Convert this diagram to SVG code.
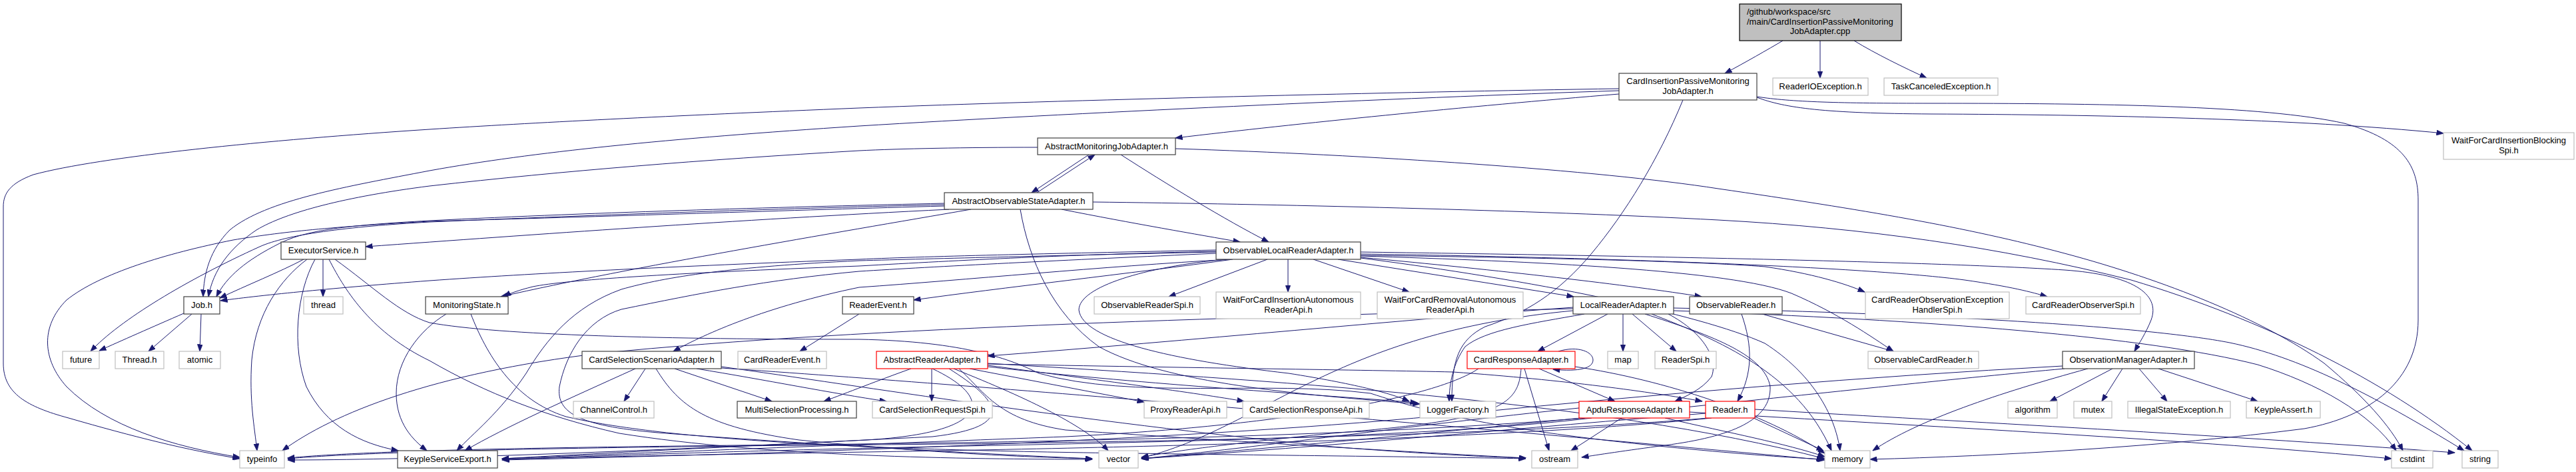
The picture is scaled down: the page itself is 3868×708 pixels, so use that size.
<svg xmlns="http://www.w3.org/2000/svg" width="3868" height="708" viewBox="0 0 3868 708">
<style>
text{font-family:"Liberation Sans",Arial,sans-serif;font-size:13px;fill:#000;text-anchor:middle}
.b{fill:#fff;stroke:#404040;stroke-width:1.2}
.g{fill:#fff;stroke:#bfbfbf;stroke-width:1.2}
.r{fill:#fff;stroke:#ff0000;stroke-width:1.2}
.root{fill:#bfbfbf;stroke:#000;stroke-width:1.2}
#edges path{fill:none;stroke:#191970;stroke-width:1;marker-end:url(#ar)}
</style>
<defs>
<marker id="ar" markerWidth="11" markerHeight="8" refX="10.5" refY="4" orient="auto" markerUnits="userSpaceOnUse"><path d="M0,0 L11,4 L0,8 z" fill="#191970" stroke="#191970" stroke-width="0.6"/></marker>
</defs>
<rect width="3868" height="708" fill="#fff"/>
<g id="edges">
<path d="M2677,61 C2655,74 2620,94 2590,110"/>
<path d="M2733,61 L2733,117"/>
<path d="M2784,61 C2815,80 2860,102 2893,117"/>
<path d="M2638,146 C2680,162 2740,170 2900,171 C3150,172 3450,178 3669,200"/>
<path d="M2638,145 C2690,153 2760,155 2900,155 C3150,155 3400,158 3520,185 C3610,210 3631,250 3631,300 L3631,480 C3631,570 3560,625 3460,643 C3250,670 3000,684 2808,689"/>
<path d="M2431,141 C2200,160 1950,185 1765,207"/>
<path d="M2431,136 C2100,147 1600,170 1290,189 C1000,208 800,228 645,256 C520,280 400,300 345,345 C315,375 306,410 305,445"/>
<path d="M2431,133 C2100,138 1600,150 1290,162 C1000,174 800,184 645,194 C400,210 150,235 50,262 C15,275 5,290 5,310 L5,545 C5,590 40,610 103,627 C200,655 280,675 360,688"/>
<path d="M2527,150 C2490,240 2440,320 2390,380 C2340,440 2290,470 2230,490 C2190,510 2180,540 2180,602"/>
<path d="M1635,232 L1549,289"/>
<path d="M1557,289 L1644,232"/>
<path d="M1558,221 C1450,221 1350,223 1290,226 C1050,240 850,256 645,279 C520,295 430,318 385,345 C345,372 320,405 313,445"/>
<path d="M1683,232 C1750,275 1840,330 1905,363"/>
<path d="M1765,223 C2050,232 2400,255 2580,283 C2800,315 2950,340 3100,380 C3250,420 3400,480 3490,545 C3550,595 3590,640 3608,676"/>
<path d="M1641,303 C1900,306 2300,315 2580,330 C2800,342 3000,370 3200,420 C3400,480 3580,570 3712,676"/>
<path d="M1594,314 C1700,335 1800,352 1862,363"/>
<path d="M1532,314 C1545,390 1580,470 1650,520 C1750,575 1950,592 2132,606"/>
<path d="M1425,314 C1100,330 800,352 549,370"/>
<path d="M1458,314 C1250,350 950,400 752,445"/>
<path d="M1418,305 C1200,310 900,318 645,331 C520,338 460,345 420,365 C370,390 340,415 325,445"/>
<path d="M1418,307 C1200,312 900,322 645,333 C520,340 430,352 390,370 C280,420 180,480 136,527"/>
<path d="M1418,309 C1200,315 900,325 645,332 C500,340 420,348 350,360 C250,380 150,410 100,450 C60,490 64,540 100,580 C160,640 260,670 360,686"/>
<path d="M456,389 C420,408 370,428 330,447"/>
<path d="M485,389 L485,445"/>
<path d="M461,389 C420,420 385,470 378,540 C374,600 382,640 386,676"/>
<path d="M473,389 C445,440 438,520 460,580 C490,640 540,665 598,676"/>
<path d="M494,389 C520,440 560,500 645,541 C730,590 820,625 930,650 C1150,685 1450,689 1640,689"/>
<path d="M503,389 C560,430 600,470 645,484 C750,503 1000,509 1290,509 C1450,512 1520,540 1560,560 C1700,600 1900,570 2058,590 C2150,620 2250,645 2500,670 C2600,680 2680,686 2738,689"/>
<path d="M670,471 C630,495 595,540 595,590 C595,635 620,660 641,676"/>
<path d="M707,471 C730,530 770,600 850,625 C1000,660 1300,675 1700,680 C2000,684 2200,686 2291,688"/>
<path d="M276,470 C230,490 180,512 149,526"/>
<path d="M288,471 L223,527"/>
<path d="M302,471 L300,527"/>
<path d="M1826,375 C1600,380 1400,384 1290,389 C1000,400 800,410 645,421 C500,432 400,442 331,451"/>
<path d="M1826,377 C1600,382 1450,390 1290,399 C1000,410 850,420 800,430 C780,435 765,440 757,445"/>
<path d="M1826,378 C1600,383 1400,388 1290,391 C1100,400 1000,415 933,434 C860,460 820,510 790,560 C750,620 710,650 686,676"/>
<path d="M1826,380 C1600,390 1400,400 1290,407 C1150,420 1050,440 933,464 C880,480 850,530 840,580 C835,620 870,640 1000,650 C1200,665 1450,680 1640,688"/>
<path d="M1848,389 C1650,400 1450,420 1290,431 C1150,460 1060,500 1011,527"/>
<path d="M1851,389 C1700,410 1500,432 1372,450"/>
<path d="M1903,389 L1755,445"/>
<path d="M1934,389 L1934,438"/>
<path d="M1972,389 L2116,438"/>
<path d="M2009,389 L2363,445"/>
<path d="M2043,386 C2250,405 2450,428 2555,445"/>
<path d="M2043,383 C2300,386 2550,392 2650,400 C2720,410 2770,425 2800,438"/>
<path d="M2043,381 C2400,386 2800,400 2950,420 C3020,430 3050,438 3074,445"/>
<path d="M2043,378 C2400,383 2900,392 3100,405 C3200,412 3245,440 3230,480 C3222,500 3212,515 3205,527"/>
<path d="M2043,384 C2300,392 2600,405 2690,440 C2760,470 2810,505 2843,527"/>
<path d="M1841,389 C1720,400 1620,430 1620,465 C1625,510 1760,540 1935,560 C2030,575 2090,590 2116,602"/>
<path d="M2043,387 C2300,420 2550,470 2650,515 C2720,560 2755,620 2763,676"/>
<path d="M2414,471 L2309,527"/>
<path d="M2437,471 L2437,527"/>
<path d="M2451,471 L2517,527"/>
<path d="M2505,471 C2560,500 2580,540 2570,565 C2555,585 2530,595 2515,602"/>
<path d="M2362,461 C2100,480 1800,510 1483,534"/>
<path d="M2362,463 C1900,475 1300,490 900,530 C650,560 500,620 424,676"/>
<path d="M2379,471 C2300,485 2230,495 2200,520 C2182,545 2176,575 2176,602"/>
<path d="M2480,471 C2580,510 2700,560 2750,676"/>
<path d="M2513,462 C2900,470 3225,490 3348,514 C3450,535 3560,590 3700,676"/>
<path d="M2513,466 C2900,480 3225,505 3390,547 C3480,575 3560,620 3598,676"/>
<path d="M2362,466 C2000,500 1900,640 1714,687"/>
<path d="M2470,471 C2560,500 2650,530 2658,580 C2660,630 2600,655 2500,668 C2440,676 2400,682 2375,686"/>
<path d="M1399,553 L1399,602"/>
<path d="M1456,553 L1718,603"/>
<path d="M1483,548 C1650,570 1800,590 1868,602"/>
<path d="M1483,550 C1700,575 1950,590 2128,604"/>
<path d="M1483,546 C1800,552 2050,555 2182,558 C2350,570 2480,588 2556,602"/>
<path d="M1368,553 C1320,570 1270,590 1237,602"/>
<path d="M1432,553 C1550,600 1630,640 1664,676"/>
<path d="M1425,553 C1500,600 1530,640 1400,655 C1100,670 900,680 754,688"/>
<path d="M1400,553 C1500,600 1480,650 1300,660 C900,680 600,690 432,690"/>
<path d="M1483,545 C1900,570 2400,600 2740,688"/>
<path d="M1440,553 C1480,590 1500,630 1600,645 C1900,665 2150,680 2291,687"/>
<path d="M969,553 L937,602"/>
<path d="M1013,553 L1159,602"/>
<path d="M1046,553 C1150,570 1250,590 1331,602"/>
<path d="M954,553 C850,600 760,640 698,676"/>
<path d="M985,553 C1020,610 1060,640 1200,660 C1400,680 1550,686 1640,688"/>
<path d="M1083,550 C1300,580 1600,630 2000,670 C2150,682 2250,686 2291,687"/>
<path d="M1083,552 C1500,580 2200,640 2740,690"/>
<path d="M1290,471 L1201,527"/>
<path d="M2340,527 C2370,518 2392,528 2392,540 C2392,552 2372,558 2332,554"/>
<path d="M2311,553 L2425,602"/>
<path d="M2289,553 L2326,676"/>
<path d="M2284,553 C2280,610 2250,630 2000,650 C1850,665 1750,678 1714,686"/>
<path d="M2365,550 C2500,570 2650,620 2740,680"/>
<path d="M2220,553 C2150,600 1900,640 1600,655 C1200,670 900,682 754,688"/>
<path d="M2435,627 L2359,676"/>
<path d="M2500,627 C2600,650 2680,665 2740,685"/>
<path d="M2371,612 C2100,640 1900,670 1714,688"/>
<path d="M2537,618 C2900,640 3300,660 3591,688"/>
<path d="M2390,627 C2200,650 1900,660 1500,668 C1100,676 900,684 754,689"/>
<path d="M2380,627 C2100,650 1700,662 1200,667 C800,671 550,676 432,687"/>
<path d="M2633,627 L2738,676"/>
<path d="M2635,614 C2900,630 3300,650 3686,679"/>
<path d="M2561,620 C2300,640 2000,670 1714,688"/>
<path d="M2565,627 C2300,650 1800,664 1200,668 C800,672 550,678 432,688"/>
<path d="M2570,627 C2300,655 1800,670 1300,678 C1000,683 850,686 754,689"/>
<path d="M2615,471 C2632,520 2632,560 2609,602"/>
<path d="M2646,471 L2843,527"/>
<path d="M3172,553 L3078,602"/>
<path d="M3187,553 L3156,602"/>
<path d="M3212,553 L3254,602"/>
<path d="M3241,553 L3390,602"/>
<path d="M3135,553 C3000,590 2880,630 2812,676"/>
<path d="M3097,549 C2800,565 2500,590 2200,620 C1800,660 1200,680 754,690"/>
<path d="M3100,553 C2800,580 2300,640 1714,688"/>
</g>
<g id="n_root"><rect class="root" x="2612" y="6" width="243" height="55"/><text x="2623" y="22" style="text-anchor:start">/github/workspace/src</text><text x="2623" y="37" style="text-anchor:start">/main/CardInsertionPassiveMonitoring</text><text x="2733" y="51">JobAdapter.cpp</text></g>
<g id="n_cipmja"><rect class="b" x="2431" y="110" width="207" height="40"/><text x="2534.5" y="126">CardInsertionPassiveMonitoring</text><text x="2534.5" y="141">JobAdapter.h</text></g>
<g id="n_readerio"><rect class="g" x="2662" y="117" width="143" height="26"/><text x="2733.5" y="134">ReaderIOException.h</text></g>
<g id="n_taskcanceled"><rect class="g" x="2829" y="117" width="171" height="26"/><text x="2914.5" y="134">TaskCanceledException.h</text></g>
<g id="n_wfcibs"><rect class="g" x="3669" y="199" width="196" height="40"/><text x="3767" y="215">WaitForCardInsertionBlocking</text><text x="3767" y="230">Spi.h</text></g>
<g id="n_amja"><rect class="b" x="1558" y="207" width="207" height="25"/><text x="1661.5" y="224">AbstractMonitoringJobAdapter.h</text></g>
<g id="n_aosa"><rect class="b" x="1418" y="289" width="223" height="25"/><text x="1529.5" y="306">AbstractObservableStateAdapter.h</text></g>
<g id="n_executor"><rect class="b" x="422" y="363" width="127" height="26"/><text x="485.5" y="380">ExecutorService.h</text></g>
<g id="n_olra"><rect class="b" x="1826" y="363" width="217" height="26"/><text x="1934.5" y="380">ObservableLocalReaderAdapter.h</text></g>
<g id="n_job"><rect class="b" x="276" y="445" width="54" height="26"/><text x="303" y="462">Job.h</text></g>
<g id="n_thread"><rect class="g" x="456" y="445" width="59" height="26"/><text x="485.5" y="462">thread</text></g>
<g id="n_monitoringstate"><rect class="b" x="639" y="445" width="124" height="26"/><text x="701" y="462">MonitoringState.h</text></g>
<g id="n_readerevent"><rect class="b" x="1265" y="445" width="107" height="26"/><text x="1318.5" y="462">ReaderEvent.h</text></g>
<g id="n_observablereaderspi"><rect class="g" x="1643" y="445" width="159" height="26"/><text x="1722.5" y="462">ObservableReaderSpi.h</text></g>
<g id="n_wfciara"><rect class="g" x="1826" y="438" width="217" height="40"/><text x="1934.5" y="454">WaitForCardInsertionAutonomous</text><text x="1934.5" y="469">ReaderApi.h</text></g>
<g id="n_wfcrara"><rect class="g" x="2068" y="438" width="219" height="40"/><text x="2177.5" y="454">WaitForCardRemovalAutonomous</text><text x="2177.5" y="469">ReaderApi.h</text></g>
<g id="n_lra"><rect class="b" x="2362" y="445" width="151" height="26"/><text x="2437.5" y="462">LocalReaderAdapter.h</text></g>
<g id="n_observablereader"><rect class="b" x="2537" y="445" width="139" height="26"/><text x="2606.5" y="462">ObservableReader.h</text></g>
<g id="n_crobsexc"><rect class="g" x="2801" y="438" width="216" height="40"/><text x="2909" y="454">CardReaderObservationException</text><text x="2909" y="469">HandlerSpi.h</text></g>
<g id="n_crobserverspi"><rect class="g" x="3042" y="445" width="172" height="26"/><text x="3128" y="462">CardReaderObserverSpi.h</text></g>
<g id="n_future"><rect class="g" x="94" y="527" width="55" height="26"/><text x="121.5" y="544">future</text></g>
<g id="n_threadh"><rect class="g" x="173" y="527" width="73" height="26"/><text x="209.5" y="544">Thread.h</text></g>
<g id="n_atomic"><rect class="g" x="269" y="527" width="62" height="26"/><text x="300" y="544">atomic</text></g>
<g id="n_cssa"><rect class="b" x="874" y="527" width="209" height="26"/><text x="978.5" y="544">CardSelectionScenarioAdapter.h</text></g>
<g id="n_cardreaderevent"><rect class="g" x="1108" y="527" width="133" height="26"/><text x="1174.5" y="544">CardReaderEvent.h</text></g>
<g id="n_ara"><rect class="r" x="1316" y="527" width="167" height="26"/><text x="1399.5" y="544">AbstractReaderAdapter.h</text></g>
<g id="n_cra"><rect class="r" x="2203" y="527" width="162" height="26"/><text x="2284" y="544">CardResponseAdapter.h</text></g>
<g id="n_map"><rect class="g" x="2414" y="527" width="46" height="26"/><text x="2437" y="544">map</text></g>
<g id="n_readerspi"><rect class="g" x="2485" y="527" width="92" height="26"/><text x="2531" y="544">ReaderSpi.h</text></g>
<g id="n_observablecardreader"><rect class="g" x="2805" y="527" width="166" height="26"/><text x="2888" y="544">ObservableCardReader.h</text></g>
<g id="n_oma"><rect class="b" x="3097" y="527" width="198" height="26"/><text x="3196" y="544">ObservationManagerAdapter.h</text></g>
<g id="n_channelcontrol"><rect class="g" x="861" y="602" width="121" height="25"/><text x="921.5" y="619">ChannelControl.h</text></g>
<g id="n_multiselection"><rect class="b" x="1107" y="602" width="179" height="25"/><text x="1196.5" y="619">MultiSelectionProcessing.h</text></g>
<g id="n_csreqspi"><rect class="g" x="1310" y="602" width="180" height="25"/><text x="1400" y="619">CardSelectionRequestSpi.h</text></g>
<g id="n_proxyreaderapi"><rect class="g" x="1718" y="602" width="124" height="25"/><text x="1780" y="619">ProxyReaderApi.h</text></g>
<g id="n_csrespapi"><rect class="g" x="1866" y="602" width="190" height="25"/><text x="1961" y="619">CardSelectionResponseApi.h</text></g>
<g id="n_loggerfactory"><rect class="g" x="2132" y="602" width="114" height="25"/><text x="2189" y="619">LoggerFactory.h</text></g>
<g id="n_apdu"><rect class="r" x="2371" y="602" width="166" height="25"/><text x="2454" y="619">ApduResponseAdapter.h</text></g>
<g id="n_reader"><rect class="r" x="2561" y="602" width="74" height="25"/><text x="2598" y="619">Reader.h</text></g>
<g id="n_algorithm"><rect class="g" x="3015" y="602" width="74" height="25"/><text x="3052" y="619">algorithm</text></g>
<g id="n_mutex"><rect class="g" x="3114" y="602" width="57" height="25"/><text x="3142.5" y="619">mutex</text></g>
<g id="n_illegalstate"><rect class="g" x="3195" y="602" width="154" height="25"/><text x="3272" y="619">IllegalStateException.h</text></g>
<g id="n_keypleassert"><rect class="g" x="3373" y="602" width="111" height="25"/><text x="3428.5" y="619">KeypleAssert.h</text></g>
<g id="n_typeinfo"><rect class="g" x="360" y="676" width="67" height="26"/><text x="393.5" y="693">typeinfo</text></g>
<g id="n_kse"><rect class="b" x="597" y="676" width="150" height="26"/><text x="672" y="693">KeypleServiceExport.h</text></g>
<g id="n_vector"><rect class="g" x="1650" y="676" width="59" height="26"/><text x="1679.5" y="693">vector</text></g>
<g id="n_ostream"><rect class="g" x="2300" y="676" width="69" height="26"/><text x="2334.5" y="693">ostream</text></g>
<g id="n_memory"><rect class="g" x="2740" y="676" width="68" height="26"/><text x="2774" y="693">memory</text></g>
<g id="n_cstdint"><rect class="g" x="3591" y="676" width="62" height="26"/><text x="3622" y="693">cstdint</text></g>
<g id="n_string"><rect class="g" x="3697" y="676" width="54" height="26"/><text x="3724" y="693">string</text></g>
</svg>
